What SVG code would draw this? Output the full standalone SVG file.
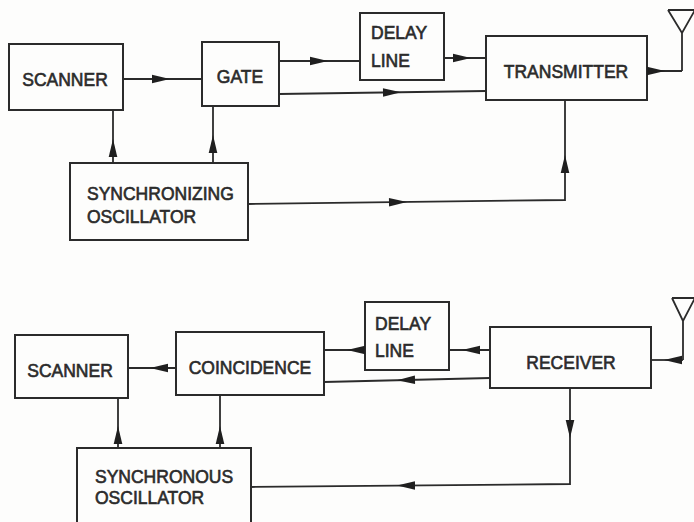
<svg xmlns="http://www.w3.org/2000/svg" width="694" height="522" viewBox="0 0 694 522">
<style>
.box{fill:none;stroke:#2b2b2b;stroke-width:2}
.ln{fill:none;stroke:#2b2b2b;stroke-width:1.8;stroke-linejoin:miter}
.t{font-family:"Liberation Sans",Arial,sans-serif;font-size:17.5px;fill:#2b2b2b;stroke:#2b2b2b;stroke-width:0.6}
.c{text-anchor:middle}
.ah{fill:#1f1f1f}
</style>
<defs>
<path id="ah" class="ah" d="M0,0 L-18,-4.3 L-18,4.3 Z"/>
</defs>
<rect width="694" height="522" fill="#fdfdfc"/>

<!-- Top system -->
<g id="scanner-top"><rect class="box" x="9" y="44" width="114" height="66"/><text class="t c" x="65" y="86">SCANNER</text></g>
<g id="gate"><rect class="box" x="202" y="42" width="77" height="64"/><text class="t c" x="240" y="83">GATE</text></g>
<g id="delay-top"><rect class="box" x="360" y="13" width="84" height="67"/><text class="t" x="371" y="39">DELAY</text><text class="t" x="371" y="67">LINE</text></g>
<g id="transmitter"><rect class="box" x="486" y="36" width="161" height="64"/><text class="t c" x="566" y="78">TRANSMITTER</text></g>
<g id="sync-osc"><rect class="box" x="70" y="163" width="178" height="77"/><text class="t" x="87" y="200">SYNCHRONIZING</text><text class="t" x="87" y="223">OSCILLATOR</text></g>
<g id="antenna-top"><path class="ln" d="M668,10 L695,10 M668,10 L682,33 L695,10 M682,33 L682,71"/></g>

<!-- Bottom system -->
<g id="scanner-bottom"><rect class="box" x="15" y="335" width="113" height="63"/><text class="t c" x="70" y="377">SCANNER</text></g>
<g id="coincidence"><rect class="box" x="176" y="332" width="148" height="63"/><text class="t c" x="250" y="374">COINCIDENCE</text></g>
<g id="delay-bottom"><rect class="box" x="365" y="302" width="84" height="68"/><text class="t" x="375" y="330">DELAY</text><text class="t" x="375" y="357">LINE</text></g>
<g id="receiver"><rect class="box" x="490" y="327" width="161" height="61"/><text class="t c" x="571" y="369">RECEIVER</text></g>
<g id="sync-osc-bottom"><rect class="box" x="77" y="448" width="174" height="80"/><text class="t" x="95" y="483">SYNCHRONOUS</text><text class="t" x="95" y="504">OSCILLATOR</text></g>
<g id="antenna-bottom"><path class="ln" d="M672,298 L695,298 M672,298 L683,321 L695,298 M683,321 L683,360"/></g>

<g id="connectors">
<path class="ln" d="M123,79 H202"/>
<use href="#ah" transform="translate(170,79)"/>
<path class="ln" d="M279,61 H360"/>
<use href="#ah" transform="translate(328,61)"/>
<path class="ln" d="M279,94 L486,91"/>
<use href="#ah" transform="translate(401,92.3) rotate(-0.8)"/>
<path class="ln" d="M444,58 H486"/>
<use href="#ah" transform="translate(471,58)"/>
<path class="ln" d="M647,71 H682"/>
<use href="#ah" transform="translate(665,71)"/>
<path class="ln" d="M113,163 V110"/>
<use href="#ah" transform="translate(113,139) rotate(-90)"/>
<path class="ln" d="M213,163 V106"/>
<use href="#ah" transform="translate(213,135) rotate(-90)"/>
<path class="ln" d="M248,204 L565,200 V100"/>
<use href="#ah" transform="translate(407,202) rotate(-0.7)"/>
<use href="#ah" transform="translate(565,155) rotate(-90)"/>

<path class="ln" d="M176,368 H128"/>
<use href="#ah" transform="translate(150,368) rotate(180)"/>
<path class="ln" d="M365,350 H324"/>
<use href="#ah" transform="translate(347,350) rotate(180)"/>
<path class="ln" d="M490,378 L324,382"/>
<use href="#ah" transform="translate(397,380.2) rotate(178.6)"/>
<path class="ln" d="M490,350 H449"/>
<use href="#ah" transform="translate(462,350) rotate(180)"/>
<path class="ln" d="M683,360 H651"/>
<use href="#ah" transform="translate(664,360) rotate(180)"/>
<path class="ln" d="M570,388 V484 L251,487"/>
<use href="#ah" transform="translate(570,438) rotate(90)"/>
<use href="#ah" transform="translate(397,485.6) rotate(179.5)"/>
<path class="ln" d="M118,448 V398"/>
<use href="#ah" transform="translate(118,426) rotate(-90)"/>
<path class="ln" d="M220,448 V395"/>
<use href="#ah" transform="translate(220,426) rotate(-90)"/>
</g>
</svg>
